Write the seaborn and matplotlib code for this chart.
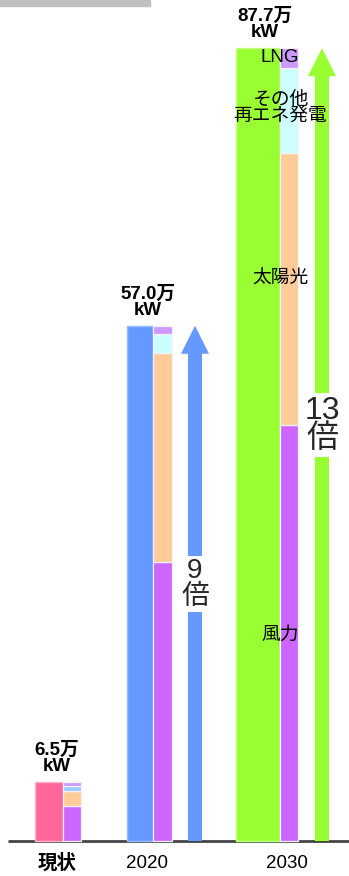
import matplotlib
matplotlib.use("Agg")
import matplotlib.pyplot as plt
from matplotlib.patches import FancyArrow, Rectangle
import seaborn as sns

# ---------------- data ----------------
groups = ["現状", "2020", "2030"]
totals = [6.5, 57.0, 87.7]
wind = [3.9, 30.9, 46.0]
solar = [1.6, 23.1, 30.1]
other = [0.6, 2.1, 9.4]
lng = [0.4, 0.9, 2.2]
total_labels = ["6.5万\nkW", "57.0万\nkW", "87.7万\nkW"]
multipliers = ["", "9\n倍", "13\n倍"]
segment_names = ["風力", "太陽光", "その他\n再エネ発電", "LNG"]

# ---------------- style / layout ----------------
sns.set_theme(style="white")
plt.rcParams["font.family"] = ["Liberation Sans", "Noto Sans CJK JP", "DejaVu Sans"]

W, H, DPI = 349, 876, 100
BASE_PX = 841          # baseline pixel row from top
PX_PER_UNIT = 9.04

total_colors = ["#ff6699", "#6699ff", "#99ff33"]
total_edges = ["#ffb3cc", "#99bbff", "#c4ff80"]
c_wind, c_solar, c_lng = "#cc66ff", "#ffcc99", "#cc99ff"
other_colors = ["#99ccff", "#ccffff", "#ccffff"]

total_x = [(35, 63), (127, 153), (236, 280)]
stack_x = [(63, 81), (153, 172), (280, 298)]
arrow_cx = [None, 195, 322]
total_label_x = [57, 148, 265]
cat_label_x = [57, 147, 287]

fig = plt.figure(figsize=(W / DPI, H / DPI), dpi=DPI)
ax = fig.add_axes([0, 0, 1, 1])
ax.set_xlim(0, W)
ax.set_ylim(-(H - BASE_PX) / PX_PER_UNIT, BASE_PX / PX_PER_UNIT)
ax.axis("off")

# grey strip at top-left
fig.patches.append(Rectangle((0, 1 - 6 / H), 150 / W, 6 / H,
                             transform=fig.transFigure, color="#c0c0c0", zorder=0))

# baseline
ax.plot([8, W], [0, 0], color="#444444", lw=2, zorder=1, solid_capstyle="butt")

for i in range(3):
    x0, x1 = total_x[i]
    ax.bar((x0 + x1) / 2, totals[i], width=x1 - x0, color=total_colors[i],
           edgecolor=total_edges[i], linewidth=1, zorder=2)
    s0, s1 = stack_x[i]
    sc = (s0 + s1) / 2
    sw = s1 - s0
    bottom = 0
    for val, col in zip([wind[i], solar[i], other[i], lng[i]],
                        [c_wind, c_solar, other_colors[i], c_lng]):
        ax.bar(sc, val, bottom=bottom, width=sw, color=col,
               edgecolor="#f4f0ff", linewidth=0.9, zorder=2)
        bottom += val
    # total label
    ax.text(total_label_x[i], totals[i] + 0.75, total_labels[i], ha="center",
            va="bottom", fontsize=13.5, fontweight="bold", linespacing=0.95,
            color="black", zorder=5)
    # category label
    ax.text(cat_label_x[i], -(863 - BASE_PX) / PX_PER_UNIT, groups[i],
            ha="center", va="center", fontsize=14 if i == 0 else 13.5,
            fontweight="bold" if i == 0 else "normal", color="black")
    # arrow
    if arrow_cx[i] is not None:
        head_len = 28 / PX_PER_UNIT
        arr = FancyArrow(arrow_cx[i], 0, 0, totals[i], width=14, head_width=28,
                         head_length=head_len, length_includes_head=True,
                         color=total_colors[i], linewidth=0, zorder=2)
        ax.add_patch(arr)

# multiplier labels
ax.text(arrow_cx[1], (BASE_PX - 584) / PX_PER_UNIT, multipliers[1], ha="center",
        va="center", fontsize=20, linespacing=1.0, zorder=6,
        bbox=dict(boxstyle="square,pad=0.08", fc="white", ec="none"))
ax.text(arrow_cx[2], (BASE_PX - 425) / PX_PER_UNIT, multipliers[2], ha="center",
        va="center", fontsize=23, linespacing=0.95, zorder=6,
        bbox=dict(boxstyle="square,pad=0.08", fc="white", ec="none"))

# segment name labels (2030 column)
seg_y_px = [635, 279, 108, 58]
for name, ypx in zip(segment_names, seg_y_px):
    ax.text(280, (BASE_PX - ypx) / PX_PER_UNIT, name, ha="center", va="center",
            fontsize=13.5, linespacing=0.9, color="black", zorder=6)

fig.savefig("out.png", dpi=DPI)
